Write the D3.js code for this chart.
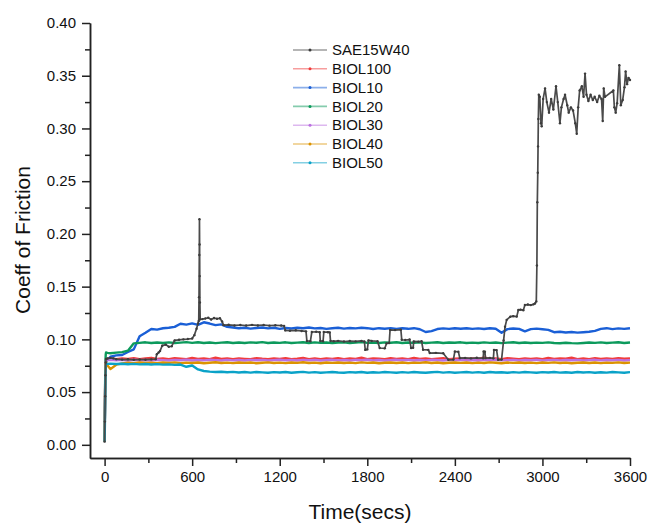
<!DOCTYPE html>
<html>
<head>
<meta charset="utf-8">
<script src="https://cdn.jsdelivr.net/npm/d3@7"></script>
<style>
  html, body { margin: 0; padding: 0; background: #fff; }
  svg { display: block; font-family: Arial, "Liberation Sans", Helvetica, sans-serif; }
</style>
</head>
<body>
<svg id="chart" width="654" height="525"></svg>
<script>
// ---------------- DATA ----------------
const seriesNames = ["SAE15W40", "BIOL100", "BIOL10", "BIOL20", "BIOL30", "BIOL40", "BIOL50"];
const seriesColors = ["#3c3c3c", "#f03c3c", "#1a5fd6", "#0c9a5c", "#bb72e0", "#dc9300", "#0aa2c8"];

const xTickValues = [0, 600, 1200, 1800, 2400, 3000, 3600];
const xMinorTicks = [300, 900, 1500, 2100, 2700, 3300];
const yTickValues = [0.00, 0.05, 0.10, 0.15, 0.20, 0.25, 0.30, 0.35, 0.40];
const yMinorTicks = [0.025, 0.075, 0.125, 0.175, 0.225, 0.275, 0.325, 0.375];

// shared sampling times (s) for the BIOL series
const timeSecs = [0,2,4,6,8,10,20,
  40,80,120,160,200,240,280,320,360,400,
  440,480,520,560,600,640,680,720,760,800,
  840,880,920,960,1000,1040,1080,1120,1160,1200,
  1240,1280,1320,1360,1400,1440,1480,1520,1560,1600,
  1640,1680,1720,1760,1800,1840,1880,1920,1960,2000,
  2040,2080,2120,2160,2200,2240,2280,2320,2360,2400,
  2440,2480,2520,2560,2600,2640,2680,2720,2760,2800,
  2840,2880,2920,2960,3000,3040,3080,3120,3160,3200,
  3240,3280,3320,3360,3400,3440,3480,3520,3560,3600];

const biol100 = [.004,.030,.058,.075,.080,.0812,.0816,
  .0818,.0812,.0820,.0815,.0822,.0813,.0819,.0825,.0814,.0818,
  .0812,.0821,.0816,.0811,.0823,.0815,.0819,.0813,.0826,.0814,
  .0818,.0812,.0820,.0815,.0811,.0822,.0816,.0813,.0819,.0814,
  .0821,.0812,.0817,.0824,.0813,.0818,.0811,.0820,.0815,.0822,
  .0813,.0819,.0814,.0827,.0812,.0818,.0816,.0811,.0821,.0815,
  .0818,.0812,.0823,.0814,.0819,.0811,.0817,.0822,.0813,.0816,
  .0820,.0814,.0818,.0812,.0828,.0815,.0819,.0813,.0821,.0816,
  .0812,.0820,.0815,.0818,.0811,.0823,.0814,.0819,.0816,.0826,
  .0813,.0818,.0812,.0821,.0815,.0819,.0814,.0822,.0816,.0818];

const biol10 = [.004,.028,.052,.070,.077,.079,.0805,
  .0835,.0848,.0852,.0880,.0905,.1030,.1062,.1098,.1092,.1105,
  .1110,.1118,.1148,.1140,.1152,.1138,.1162,.1150,.1135,.1142,
  .1118,.1112,.1105,.1110,.1102,.1108,.1112,.1104,.1110,.1100,
  .1108,.1103,.1110,.1105,.1112,.1104,.1108,.1100,.1106,.1110,
  .1102,.1108,.1104,.1110,.1106,.1098,.1106,.1101,.1107,.1099,
  .1105,.1100,.1106,.1096,.1070,.1078,.1098,.1104,.1099,.1105,
  .1101,.1106,.1099,.1104,.1098,.1105,.1100,.1062,.1097,.1103,
  .1099,.1076,.1097,.1102,.1096,.1090,.1068,.1072,.1065,.1070,
  .1064,.1068,.1072,.1080,.1100,.1106,.1097,.1104,.1099,.1106];

const biol20 = [.004,.032,.062,.080,.086,.0875,.0872,
  .0868,.0874,.0879,.0893,.0962,.0967,.0972,.0965,.0970,.0966,
  .0971,.0965,.0969,.0974,.0967,.0972,.0966,.0970,.0964,.0969,
  .0973,.0966,.0970,.0965,.0971,.0968,.0974,.0966,.0970,.0967,
  .0972,.0965,.0969,.0973,.0966,.0971,.0967,.0970,.0964,.0969,
  .0972,.0966,.0970,.0975,.0967,.0969,.0965,.0971,.0968,.0973,
  .0966,.0970,.0967,.0972,.0965,.0969,.0973,.0966,.0970,.0968,
  .0972,.0965,.0969,.0966,.0971,.0967,.0970,.0964,.0969,.0972,
  .0966,.0970,.0965,.0969,.0967,.0971,.0966,.0963,.0968,.0964,
  .0962,.0966,.0970,.0967,.0971,.0965,.0969,.0972,.0966,.0970];

const biol30 = [.004,.029,.056,.074,.079,.0801,.0804,
  .0806,.0801,.0805,.0799,.0807,.0802,.0804,.0800,.0806,.0803,
  .0800,.0805,.0802,.0807,.0799,.0804,.0801,.0806,.0803,.0800,
  .0805,.0801,.0804,.0799,.0806,.0802,.0805,.0800,.0803,.0807,
  .0801,.0804,.0800,.0806,.0802,.0805,.0799,.0803,.0806,.0801,
  .0804,.0800,.0805,.0802,.0807,.0801,.0804,.0799,.0803,.0806,
  .0802,.0805,.0800,.0804,.0801,.0806,.0803,.0799,.0805,.0802,
  .0806,.0801,.0804,.0800,.0805,.0802,.0807,.0801,.0803,.0805,
  .0800,.0804,.0802,.0806,.0799,.0803,.0805,.0801,.0804,.0802,
  .0805,.0800,.0803,.0806,.0801,.0804,.0802,.0805,.0800,.0803];

const biol40 = [.003,.027,.054,.072,.077,.0785,.0752,
  .0718,.0760,.0772,.0778,.0775,.0781,.0776,.0779,.0774,.0780,
  .0777,.0782,.0775,.0779,.0776,.0781,.0774,.0778,.0783,.0776,
  .0779,.0775,.0781,.0777,.0780,.0774,.0778,.0782,.0776,.0779,
  .0775,.0780,.0777,.0783,.0776,.0779,.0774,.0781,.0777,.0780,
  .0776,.0779,.0775,.0782,.0777,.0780,.0774,.0778,.0781,.0776,
  .0780,.0775,.0779,.0777,.0783,.0776,.0780,.0774,.0778,.0781,
  .0777,.0780,.0775,.0779,.0776,.0782,.0778,.0774,.0780,.0777,
  .0781,.0776,.0779,.0775,.0780,.0777,.0782,.0776,.0779,.0774,
  .0778,.0781,.0776,.0780,.0775,.0779,.0777,.0782,.0776,.0779];

const biol50 = [.003,.018,.045,.066,.074,.0765,.0768,
  .0770,.0766,.0769,.0764,.0768,.0763,.0766,.0762,.0765,.0760,
  .0763,.0758,.0761,.0740,.0752,.0715,.0700,.0694,.0690,.0693,
  .0688,.0692,.0686,.0690,.0685,.0691,.0687,.0683,.0689,.0686,
  .0690,.0684,.0688,.0692,.0685,.0689,.0683,.0687,.0691,.0686,
  .0684,.0689,.0686,.0690,.0683,.0688,.0685,.0691,.0687,.0684,
  .0689,.0685,.0690,.0686,.0683,.0688,.0692,.0685,.0689,.0684,
  .0687,.0691,.0685,.0689,.0684,.0690,.0686,.0688,.0683,.0689,
  .0685,.0690,.0687,.0684,.0689,.0686,.0691,.0685,.0688,.0684,
  .0690,.0686,.0689,.0684,.0688,.0685,.0691,.0687,.0684,.0689];

// SAE15W40 has its own (irregular) sampling
const saeTime = [0,2,4,6,8,10,20,40,60,80,120,160,200,240,280,320,350,358,370,380,395,420,440,460,480,510,540,570,600,615,630,640,645,647,649,650,651,652,653,655,
  670,690,710,730,750,770,790,805,815,850,890,930,970,1010,1050,1090,1130,1170,1210,1230,1238,1270,1310,1350,1380,1386,1410,1420,1450,1474,1478,1497,1502,1530,1543,1548,1570,1600,1640,1680,1720,1760,1780,1786,1800,1808,
  1830,1870,1885,1920,1932,1950,1956,1990,2030,2036,2060,2090,2100,2114,2118,2150,2172,2182,2218,2228,2270,2320,2355,2390,2400,2424,2434,2470,2510,2550,2594,2597,2606,2610,2640,2664,2668,2686,2696,2720,
  2734,2744,2755,2780,2800,2824,2835,2850,2869,2880,2900,2920,2938,2949,2958,2962,2965,2968,2970,2972,2975,2982,2990,2995,3005,3018,3030,3045,3060,3075,3093,3105,3120,3130,3145,3155,3170,3180,3195,3210,3225,3235,3245,3255,3270,3282,3292,3302,3315,3330,3345,3358,3375,3390,3405,3413,3420,3429,3486,3493,3502,3512,3527,3537,3550,3562,3570,3580,3590,3600];
const sae15w40 = [.003,.022,.046,.066,.078,.0815,.0818,.0824,.0820,.0812,.0808,.0811,.0806,.0809,.0807,.0810,.0812,.0860,.0875,.0890,.0940,.0950,.0930,.0935,.0990,.0996,.1000,.1003,.1008,.1040,.1100,.1150,.1175,.1400,.1800,.2140,.1900,.1600,.1350,.1190,
  .1192,.1198,.1205,.1188,.1202,.1195,.1200,.1170,.1135,.1138,.1132,.1136,.1131,.1137,.1132,.1136,.1130,.1134,.1131,.1128,.1085,.1082,.1086,.1080,.1076,.0985,.0982,.1070,.1072,.1068,.0985,.0982,.1070,.1068,.1066,.0985,.0982,.0986,.0980,.0984,.0981,.0985,.0980,.0900,.0905,.0990,
  .0985,.0982,.0918,.0915,.0962,.0965,.1090,.1088,.1092,.0996,.0994,.0998,.0918,.0920,.0980,.0978,.0982,.0902,.0900,.0870,.0872,.0868,.0806,.0808,.0885,.0882,.0822,.0824,.0820,.0825,.0821,.0885,.0883,.0822,.0824,.0820,.0900,.0898,.0806,.0808,
  .0990,.1120,.1185,.1215,.1220,.1216,.1278,.1282,.1276,.1326,.1330,.1325,.1332,.1340,.1360,.1700,.2300,.2580,.2830,.3090,.3320,.3300,.3050,.3020,.3280,.3380,.3250,.3150,.3280,.3180,.3400,.3250,.3050,.3200,.3280,.3320,.3220,.3150,.3200,.3170,.3050,.2950,.3200,.3360,.3400,.3300,.3520,.3320,.3260,.3320,.3270,.3300,.3250,.3310,.3280,.3070,.3380,.3300,.3360,.3200,.3150,.3240,.3600,.3220,.3270,.3390,.3540,.3420,.3480,.3460];

// ---------------- CHART ----------------
const svg = d3.select("#chart");
const x = d3.scaleLinear().domain([-100, 3600]).range([90, 630]);
const y = d3.scaleLinear().domain([-0.0125, 0.40]).range([458, 23]);
const axisColor = "#222";

const biolSeries = [
  {name: "BIOL100", values: biol100},
  {name: "BIOL10", values: biol10},
  {name: "BIOL20", values: biol20},
  {name: "BIOL30", values: biol30},
  {name: "BIOL40", values: biol40},
  {name: "BIOL50", values: biol50}
];
const colorOf = name => seriesColors[seriesNames.indexOf(name)];

const line = d3.line().x(d => x(d[0])).y(d => y(d[1]));

const plot = svg.append("g");
biolSeries.forEach(s => {
  const pts = timeSecs.map((t, i) => [t, s.values[i]]);
  plot.append("path")
    .attr("d", line(pts))
    .attr("fill", "none")
    .attr("stroke", colorOf(s.name))
    .attr("stroke-width", 2.4)
    .attr("stroke-linejoin", "round");
});

const saePts = saeTime.map((t, i) => [t, sae15w40[i]]);
plot.append("path")
  .attr("d", line(saePts))
  .attr("fill", "none")
  .attr("stroke", "#4a4a4a")
  .attr("stroke-width", 1.7)
  .attr("stroke-linejoin", "round");
plot.selectAll("circle.sae").data(saePts).join("circle")
  .attr("class", "sae")
  .attr("cx", d => x(d[0])).attr("cy", d => y(d[1]))
  .attr("r", 1.2).attr("fill", colorOf("SAE15W40"));

// ---------------- AXES ----------------
function styleAxis(g) {
  g.selectAll("path.domain").attr("stroke", axisColor).attr("stroke-width", 1.5);
  g.selectAll(".tick line").attr("stroke", axisColor).attr("stroke-width", 1.5);
  g.selectAll(".tick text").attr("fill", "#111").style("font-size", "15px")
    .style("font-family", "Arial, 'Liberation Sans', sans-serif");
}

const yAxis = svg.append("g").attr("transform", "translate(90,0)")
  .call(d3.axisLeft(y).tickValues(yTickValues).tickFormat(d3.format(".2f"))
    .tickSize(8).tickSizeOuter(0).tickPadding(6));
styleAxis(yAxis);
const yMinor = svg.append("g").attr("transform", "translate(90,0)")
  .call(d3.axisLeft(y).tickValues(yMinorTicks).tickFormat("").tickSize(5).tickSizeOuter(0));
styleAxis(yMinor);

const xAxis = svg.append("g").attr("transform", "translate(0,458)")
  .call(d3.axisBottom(x).tickValues(xTickValues).tickFormat(d3.format("d"))
    .tickSize(8).tickSizeOuter(0).tickPadding(5));
styleAxis(xAxis);
const xMinor = svg.append("g").attr("transform", "translate(0,458)")
  .call(d3.axisBottom(x).tickValues(xMinorTicks).tickFormat("").tickSize(5).tickSizeOuter(0));
styleAxis(xMinor);

// axis titles
svg.append("text")
  .attr("x", 360).attr("y", 519)
  .attr("text-anchor", "middle")
  .style("font-size", "21px").attr("fill", "#111")
  .text("Time(secs)");
svg.append("text")
  .attr("transform", "translate(30,240) rotate(-90)")
  .attr("text-anchor", "middle")
  .style("font-size", "21px").attr("fill", "#111")
  .text("Coeff of Friction");

// ---------------- LEGEND ----------------
const legend = svg.append("g");
seriesNames.forEach((name, i) => {
  const cy = 50 + i * 18.8;
  const c = seriesColors[i];
  legend.append("line").attr("x1", 293).attr("x2", 327).attr("y1", cy).attr("y2", cy)
    .attr("stroke", c).attr("stroke-width", 1.6).attr("stroke-opacity", 0.5);
  legend.append("circle").attr("cx", 310).attr("cy", cy).attr("r", 1.5).attr("fill", c);
  legend.append("text").attr("x", 332).attr("y", cy).attr("dy", "0.35em")
    .style("font-size", "15px").attr("fill", "#111").text(name);
});
</script>
</body>
</html>
